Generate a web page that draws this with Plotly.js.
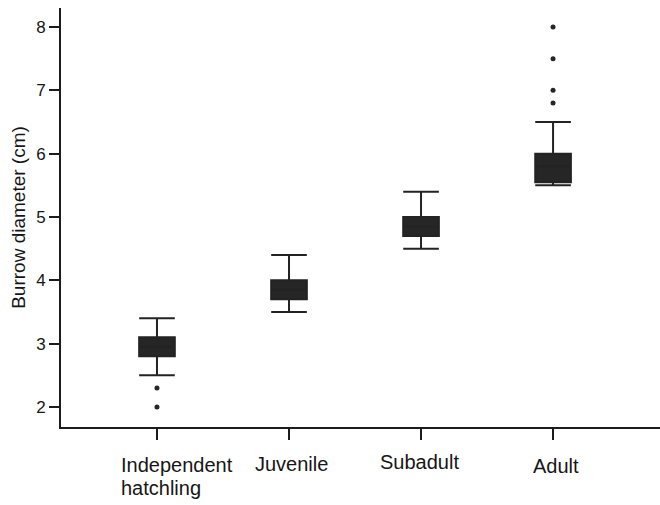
<!DOCTYPE html>
<html>
<head>
<meta charset="utf-8">
<script src="https://cdn.plot.ly/plotly-3.0.1.min.js"></script>
<style>html,body{margin:0;padding:0;background:#fff;}#chart{width:660px;height:505px;}</style>
</head>
<body>
<div id="chart"></div>
<script>
var categories = ["Independent hatchling", "Juvenile", "Subadult", "Adult"];
var labelLines = [["Independent", "hatchling"], ["Juvenile"], ["Subadult"], ["Adult"]];
var lowerWhisker = [2.5, 3.5, 4.5, 5.5];
var q1Values = [2.8, 3.7, 4.7, 5.55];
var medianValues = [2.95, 3.85, 4.85, 5.8];
var q3Values = [3.1, 4.0, 5.0, 6.0];
var upperWhisker = [3.4, 4.4, 5.4, 6.5];
var outlierCategories = ["Independent hatchling", "Independent hatchling", "Adult", "Adult", "Adult", "Adult"];
var outlierValues = [2.3, 2.0, 6.8, 7.0, 7.5, 8.0];
var yTicks = [2, 3, 4, 5, 6, 7, 8];

var textColor = "#161616";
var inkColor = "#1c1c1c";

var boxTrace = {
  type: "box",
  x: categories,
  q1: q1Values,
  median: medianValues,
  q3: q3Values,
  lowerfence: lowerWhisker,
  upperfence: upperWhisker,
  width: 0.27,
  whiskerwidth: 1,
  fillcolor: "#262626",
  line: {color: "#232323", width: 2},
  boxpoints: false,
  hoverinfo: "skip",
  showlegend: false
};

var outlierTrace = {
  type: "scatter",
  mode: "markers",
  x: outlierCategories,
  y: outlierValues,
  marker: {color: "#262626", size: 5},
  hoverinfo: "skip",
  showlegend: false
};

// label placement (layout only)
var labelPlacement = [
  [{xanchor: "left", xshift: -38, y: -0.0907}, {xanchor: "left", xshift: -38, y: -0.1456}],
  [{xanchor: "center", xshift: 2, y: -0.0883}],
  [{xanchor: "center", xshift: -2, y: -0.0835}],
  [{xanchor: "center", xshift: 3, y: -0.093}]
];
var annotations = [];
labelLines.forEach(function (lines, i) {
  lines.forEach(function (line, j) {
    var p = labelPlacement[i][j];
    annotations.push({
      x: categories[i], xref: "x",
      y: p.y, yref: "paper",
      xanchor: p.xanchor, yanchor: "middle",
      xshift: p.xshift,
      text: line, showarrow: false,
      font: {size: 20, color: textColor}
    });
  });
});

var layout = {
  width: 660,
  height: 505,
  margin: {l: 61, r: 0, t: 8, b: 78},
  paper_bgcolor: "#ffffff",
  plot_bgcolor: "#ffffff",
  font: {family: "Liberation Sans, Arial, sans-serif", color: textColor},
  showlegend: false,
  annotations: annotations,
  xaxis: {
    type: "category",
    categoryorder: "array",
    categoryarray: categories,
    range: [-0.727, 3.81],
    showline: true,
    linecolor: inkColor,
    linewidth: 2,
    showgrid: false,
    zeroline: false,
    ticks: "outside",
    ticklen: 11,
    tickwidth: 2,
    tickcolor: inkColor,
    showticklabels: false
  },
  yaxis: {
    range: [1.684, 8.3],
    tickvals: yTicks,
    ticktext: yTicks.map(String),
    showline: true,
    linecolor: inkColor,
    linewidth: 2,
    showgrid: false,
    zeroline: false,
    ticks: "outside",
    ticklen: 10,
    tickwidth: 2,
    tickcolor: inkColor,
    tickfont: {size: 17, color: textColor},
    title: {text: "Burrow diameter (cm)", font: {size: 19, color: textColor}, standoff: 5}
  }
};

Plotly.newPlot("chart", [boxTrace, outlierTrace], layout, {displayModeBar: false, staticPlot: true});
</script>
</body>
</html>
